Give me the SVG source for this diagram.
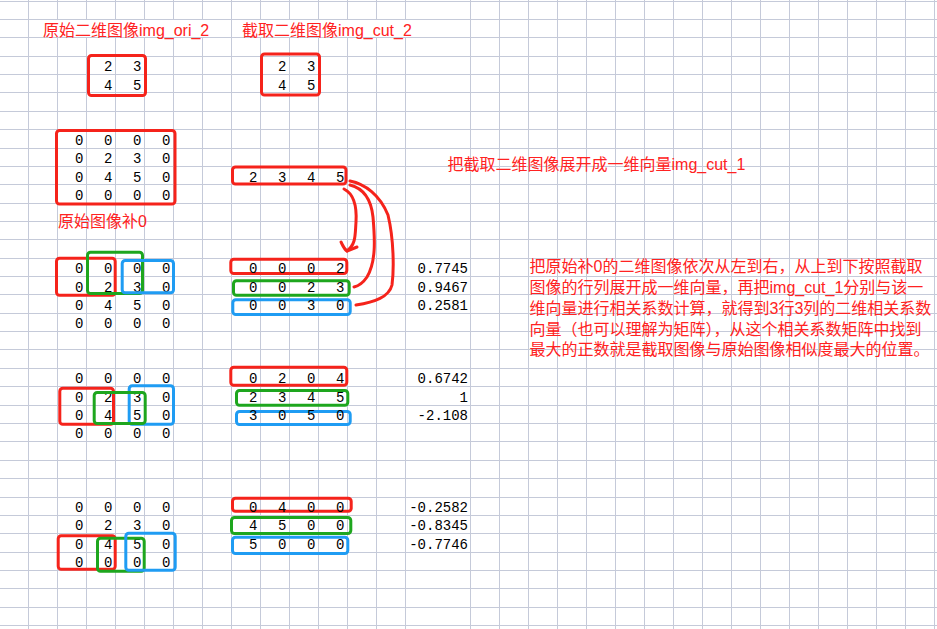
<svg xmlns="http://www.w3.org/2000/svg" width="937" height="629" viewBox="0 0 937 629">
<style>
.grid{stroke:#c5cad9;stroke-width:1;fill:none}
.box{fill:none;stroke-width:3}
.r{stroke:#f5231b}
.g{stroke:#1ea61e}
.b{stroke:#1f9cf3}
.num{font-family:"Liberation Mono",monospace;font-size:14px;fill:#000;text-anchor:end}
.cn{font-family:"Liberation Sans","Noto Sans CJK SC",sans-serif;font-size:16px;fill:#ff2222}
.arc{fill:none;stroke:#f5231b;stroke-width:3;stroke-linecap:round;stroke-linejoin:round}
</style>
<rect width="937" height="629" fill="#fff"/>
<path class="grid" d="M28.5,0V629M57.5,0V629M86.5,0V629M115.5,0V629M144.5,0V629M173.5,0V629M202.5,0V629M231.5,0V629M260.5,0V629M289.5,0V629M318.5,0V629M347.5,0V629M376.5,0V629M405.5,0V629M470.5,0V629M499.5,0V629M528.5,0V629M557.5,0V629M586.5,0V629M615.5,0V629M644.5,0V629M673.5,0V629M702.5,0V629M731.5,0V629M760.5,0V629M789.5,0V629M818.5,0V629M847.5,0V629M876.5,0V629M905.5,0V629M934.5,0V629
M0,1.5H937M0,19.5H937M0,37.5H937M0,56.5H937M0,74.5H937M0,92.5H937M0,111.5H937M0,129.5H937M0,148.5H937M0,166.5H937M0,184.5H937M0,203.5H937M0,221.5H937M0,239.5H937M0,258.5H937M0,276.5H937M0,294.5H937M0,313.5H937M0,331.5H937M0,349.5H937M0,368.5H937M0,386.5H937M0,405.5H937M0,423.5H937M0,441.5H937M0,460.5H937M0,478.5H937M0,497.5H937M0,515.5H937M0,533.5H937M0,552.5H937M0,570.5H937M0,588.5H937M0,607.5H937M0,625.5H937"/>
<rect x="29" y="20" width="202" height="17" fill="#fff"/>
<rect x="232" y="20" width="238" height="17" fill="#fff"/>

<g id="title-ori"><text class="cn" x="43" y="36">原始二维图像img_ori_2</text></g>
<g id="title-cut"><text class="cn" x="242" y="36">截取二维图像img_cut_2</text></g>

<g id="mat-ori">
<rect class="box r" x="88.5" y="55.5" width="57" height="40" rx="3"/>
<text class="num" x="112.5" y="71">2</text><text class="num" x="141.5" y="71">3</text>
<text class="num" x="112.5" y="89.5">4</text><text class="num" x="141.5" y="89.5">5</text>
</g>
<g id="mat-cut">
<rect class="box r" x="261.5" y="54" width="58" height="41" rx="3"/>
<text class="num" x="286.5" y="71">2</text><text class="num" x="315.5" y="71">3</text>
<text class="num" x="286.5" y="89.5">4</text><text class="num" x="315.5" y="89.5">5</text>
</g>

<g id="mat-pad">
<rect class="box r" x="56.5" y="130.5" width="118.5" height="73.5" rx="3"/>
<text class="num" y="144.5"><tspan x="83.5">0</tspan><tspan x="112.5">0</tspan><tspan x="141.5">0</tspan><tspan x="170.5">0</tspan></text>
<text class="num" y="163"><tspan x="83.5">0</tspan><tspan x="112.5">2</tspan><tspan x="141.5">3</tspan><tspan x="170.5">0</tspan></text>
<text class="num" y="181.5"><tspan x="83.5">0</tspan><tspan x="112.5">4</tspan><tspan x="141.5">5</tspan><tspan x="170.5">0</tspan></text>
<text class="num" y="200"><tspan x="83.5">0</tspan><tspan x="112.5">0</tspan><tspan x="141.5">0</tspan><tspan x="170.5">0</tspan></text>
</g>
<g id="label-pad"><text class="cn" x="58" y="227">原始图像补0</text></g>

<g id="vec-cut">
<rect class="box r" x="232.5" y="167" width="113.5" height="17" rx="3"/>
<text class="num" y="181.5"><tspan x="257.5">2</tspan><tspan x="286.5">3</tspan><tspan x="315.5">4</tspan><tspan x="344.5">5</tspan></text>
</g>
<g id="label-vec"><text class="cn" x="447.5" y="170">把截取二维图像展开成一维向量img_cut_1</text></g>

<g id="note">
<text class="cn" x="529.5" y="271.5">把原始补0的二维图像依次从左到右，从上到下按照截取</text>
<text class="cn" x="529.5" y="292.5">图像的行列展开成一维向量，再把img_cut_1分别与该一</text>
<text class="cn" x="529.5" y="314">维向量进行相关系数计算，就得到3行3列的二维相关系数</text>
<text class="cn" x="529.5" y="334.5">向量（也可以理解为矩阵），从这个相关系数矩阵中找到</text>
<text class="cn" x="529.5" y="355">最大的正数就是截取图像与原始图像相似度最大的位置。</text>
</g>

<g id="step1-matrix">
<text class="num" y="273"><tspan x="83.5">0</tspan><tspan x="112.5">0</tspan><tspan x="141.5">0</tspan><tspan x="170.5">0</tspan></text>
<text class="num" y="291.5"><tspan x="83.5">0</tspan><tspan x="112.5">2</tspan><tspan x="141.5">3</tspan><tspan x="170.5">0</tspan></text>
<text class="num" y="309.5"><tspan x="83.5">0</tspan><tspan x="112.5">4</tspan><tspan x="141.5">5</tspan><tspan x="170.5">0</tspan></text>
<text class="num" y="328"><tspan x="83.5">0</tspan><tspan x="112.5">0</tspan><tspan x="141.5">0</tspan><tspan x="170.5">0</tspan></text>
<rect class="box r" x="56.5" y="258.2" width="58.7" height="37" rx="3"/>
<rect class="box g" x="87.5" y="252.2" width="55" height="41.3" rx="3"/>
<rect class="box b" x="122.2" y="260.5" width="51.3" height="32.3" rx="3"/>
</g>
<g id="step1-vectors">
<rect class="box r" x="230.8" y="259.2" width="116" height="14.3" rx="3"/>
<rect class="box g" x="233.5" y="280.8" width="115.7" height="14.4" rx="3"/>
<rect class="box b" x="232.8" y="299.8" width="117.4" height="14.7" rx="3"/>
<text class="num" y="273"><tspan x="257.5">0</tspan><tspan x="286.5">0</tspan><tspan x="315.5">0</tspan><tspan x="344.5">2</tspan></text>
<text class="num" y="291.5"><tspan x="257.5">0</tspan><tspan x="286.5">0</tspan><tspan x="315.5">2</tspan><tspan x="344.5">3</tspan></text>
<text class="num" y="309.5"><tspan x="257.5">0</tspan><tspan x="286.5">0</tspan><tspan x="315.5">3</tspan><tspan x="344.5">0</tspan></text>
</g>
<g id="step1-values">
<text class="num" x="468" y="273">0.7745</text>
<text class="num" x="468" y="291.5">0.9467</text>
<text class="num" x="468" y="309.5">0.2581</text>
</g>

<g id="step2-matrix">
<text class="num" y="383"><tspan x="83.5">0</tspan><tspan x="112.5">0</tspan><tspan x="141.5">0</tspan><tspan x="170.5">0</tspan></text>
<text class="num" y="401.5"><tspan x="83.5">0</tspan><tspan x="112.5">2</tspan><tspan x="141.5">3</tspan><tspan x="170.5">0</tspan></text>
<text class="num" y="419.5"><tspan x="83.5">0</tspan><tspan x="112.5">4</tspan><tspan x="141.5">5</tspan><tspan x="170.5">0</tspan></text>
<text class="num" y="438"><tspan x="83.5">0</tspan><tspan x="112.5">0</tspan><tspan x="141.5">0</tspan><tspan x="170.5">0</tspan></text>
<rect class="box r" x="59.8" y="388.2" width="53.7" height="36" rx="3"/>
<rect class="box b" x="129.2" y="385.8" width="44.3" height="38.4" rx="3"/>
<rect class="box g" x="94.2" y="392.5" width="51" height="31" rx="3"/>
</g>
<g id="step2-vectors">
<rect class="box r" x="230.8" y="367.2" width="116" height="18" rx="3"/>
<rect class="box g" x="236.5" y="390.5" width="111.3" height="14.7" rx="3"/>
<rect class="box b" x="236.5" y="411.5" width="113.7" height="13" rx="3"/>
<text class="num" y="383"><tspan x="257.5">0</tspan><tspan x="286.5">2</tspan><tspan x="315.5">0</tspan><tspan x="344.5">4</tspan></text>
<text class="num" y="401.5"><tspan x="257.5">2</tspan><tspan x="286.5">3</tspan><tspan x="315.5">4</tspan><tspan x="344.5">5</tspan></text>
<text class="num" y="419.5"><tspan x="257.5">3</tspan><tspan x="286.5">0</tspan><tspan x="315.5">5</tspan><tspan x="344.5">0</tspan></text>
</g>
<g id="step2-values">
<text class="num" x="468" y="383">0.6742</text>
<text class="num" x="468" y="401.5">1</text>
<text class="num" x="468" y="419.5">-2.108</text>
</g>

<g id="step3-matrix">
<text class="num" y="512"><tspan x="83.5">0</tspan><tspan x="112.5">0</tspan><tspan x="141.5">0</tspan><tspan x="170.5">0</tspan></text>
<text class="num" y="530"><tspan x="83.5">0</tspan><tspan x="112.5">2</tspan><tspan x="141.5">3</tspan><tspan x="170.5">0</tspan></text>
<text class="num" y="548.5"><tspan x="83.5">0</tspan><tspan x="112.5">4</tspan><tspan x="141.5">5</tspan><tspan x="170.5">0</tspan></text>
<text class="num" y="567"><tspan x="83.5">0</tspan><tspan x="112.5">0</tspan><tspan x="141.5">0</tspan><tspan x="170.5">0</tspan></text>
<rect class="box r" x="58.2" y="535.8" width="57" height="33.4" rx="3"/>
<rect class="box g" x="97.5" y="538.2" width="46.7" height="33" rx="3"/>
<rect class="box b" x="125.8" y="533.2" width="49.4" height="37" rx="3"/>
</g>
<g id="step3-vectors">
<rect class="box r" x="232.5" y="498.2" width="118.7" height="13" rx="3"/>
<rect class="box g" x="231.5" y="517.5" width="119.3" height="16" rx="3"/>
<rect class="box b" x="232.5" y="537.2" width="115.3" height="16.3" rx="3"/>
<text class="num" y="512"><tspan x="257.5">0</tspan><tspan x="286.5">4</tspan><tspan x="315.5">0</tspan><tspan x="344.5">0</tspan></text>
<text class="num" y="530"><tspan x="257.5">4</tspan><tspan x="286.5">5</tspan><tspan x="315.5">0</tspan><tspan x="344.5">0</tspan></text>
<text class="num" y="548.5"><tspan x="257.5">5</tspan><tspan x="286.5">0</tspan><tspan x="315.5">0</tspan><tspan x="344.5">0</tspan></text>
</g>
<g id="step3-values">
<text class="num" x="468" y="512">-0.2582</text>
<text class="num" x="468" y="530">-0.8345</text>
<text class="num" x="468" y="548.5">-0.7746</text>
</g>

<g id="connectors">
<path class="arc" d="M344,189 C354,194 357,205 356,222 C355,236 356,244 347,251"/>
<path class="arc" d="M341,242 C343,246 344,249 347,251 L357,247"/>
<path class="arc" d="M350,185 C362,188 371,198 373,217 C375,240 376,262 367,277 C363,283 358,286 354,287"/>
<path class="arc" d="M350,181 C365,184 380,195 388,215 C394,240 394,270 392,285 C389,297 375,302 356,305"/>
</g>
</svg>
